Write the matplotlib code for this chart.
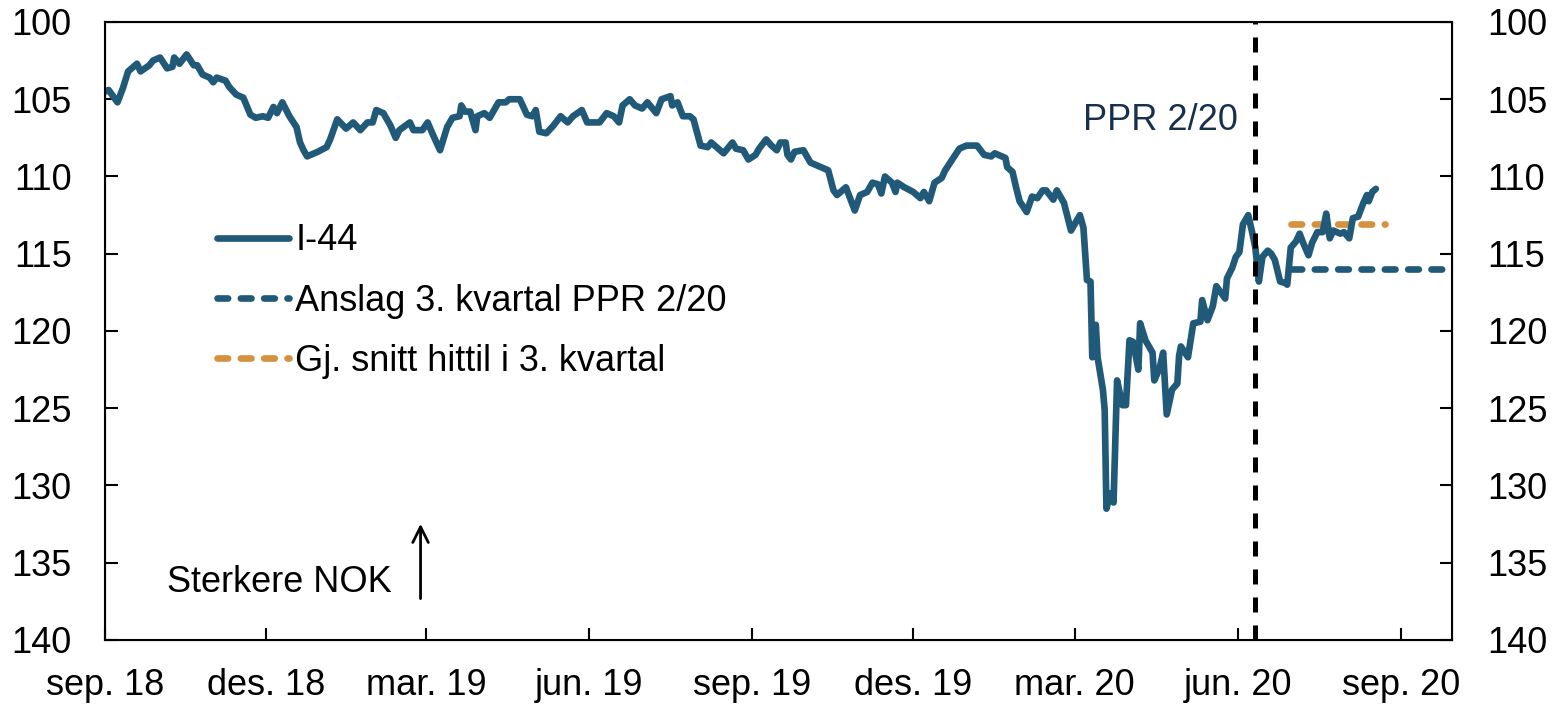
import numpy as np
import matplotlib
matplotlib.use('agg')
import matplotlib.pyplot as plt

# I-44 (days after 1 Sep 2018, index value)
day_offsets = [0, 2, 7, 10, 13, 18, 20, 25, 27, 31, 35, 38, 39, 42, 46, 50, 52, 55, 59, 61,
               63, 68, 70, 74, 78, 82, 85, 89, 92, 95, 97, 100, 104, 108, 110, 112, 114, 120, 125, 127,
               131, 136, 140, 144, 148, 151, 153, 157, 161, 164, 166, 172, 174, 179, 182, 185, 189, 193, 196, 200,
               201, 203, 206, 209, 210, 214, 217, 222, 226, 228, 234, 238, 241, 243, 245, 249, 253, 257, 261, 264,
               269, 272, 275, 279, 283, 287, 290, 292, 296, 299, 303, 306, 311, 314, 319, 320, 323, 326, 330, 332,
               336, 340, 342, 345, 349, 354, 356, 360, 363, 367, 369, 373, 376, 379, 381, 384, 385, 387, 389, 394,
               398, 402, 404, 408, 411, 413, 416, 418, 420, 423, 426, 430, 433, 436, 438, 440, 444, 446, 447, 451,
               456, 460, 462, 465, 468, 472, 474, 478, 482, 486, 490, 492, 496, 500, 502, 508, 509, 512, 514, 516,
               520, 523, 526, 529, 531, 535, 537, 541, 545, 550, 552, 554, 556, 557, 559, 560, 563, 564, 565, 567,
               569, 571, 574, 576, 578, 580, 583, 584, 587, 591, 592, 595, 597, 599, 602, 605, 606, 607, 611, 614,
               618, 619, 622, 625, 627, 632, 633, 636, 638, 640, 642, 645, 647, 649, 651, 653, 656, 658, 660, 663,
               666, 667, 669, 672, 674, 676, 679, 681, 684, 687, 689, 691, 693, 697, 699, 702, 704, 707, 710, 712,
               713, 715, 717]
i44 = [104.5, 104.4, 105.2, 104.3, 103.2, 102.7, 103.2, 102.8, 102.5, 102.3, 103.0, 102.9, 102.3, 102.7, 102.1, 102.8, 102.8, 103.4, 103.6, 103.9,
       103.6, 103.8, 104.2, 104.7, 104.9, 106.0, 106.2, 106.1, 106.2, 105.5, 105.9, 105.2, 106.1, 106.8, 107.8, 108.3, 108.7, 108.4, 108.1, 107.6,
       106.3, 106.9, 106.5, 107.0, 106.5, 106.5, 105.7, 105.9, 106.7, 107.5, 107.0, 106.5, 107.0, 107.0, 106.5, 107.3, 108.3, 106.8, 106.2, 106.1,
       105.4, 105.8, 105.8, 107.0, 106.1, 105.9, 106.2, 105.2, 105.2, 105.0, 105.0, 106.0, 106.1, 105.7, 107.1, 107.2, 106.7, 106.1, 106.5, 106.1,
       105.7, 106.5, 106.5, 106.5, 105.9, 106.1, 106.5, 105.4, 105.0, 105.4, 105.6, 105.2, 105.9, 105.0, 104.8, 105.4, 105.2, 106.1, 106.1, 106.3,
       108.0, 108.1, 107.8, 108.1, 108.5, 107.8, 108.2, 108.3, 108.9, 108.6, 108.2, 107.6, 108.0, 108.3, 107.8, 107.8, 108.6, 108.9, 108.4, 108.3,
       109.1, 109.3, 109.4, 109.6, 110.9, 111.2, 110.9, 110.7, 111.3, 112.2, 111.2, 111.0, 110.4, 110.5, 111.1, 110.0, 110.4, 111.0, 110.4, 110.7,
       111.0, 111.4, 111.0, 111.6, 110.4, 110.1, 109.6, 108.9, 108.2, 108.0, 108.0, 108.0, 108.6, 108.7, 108.5, 108.8, 109.4, 109.7, 110.7, 111.6,
       112.3, 111.3, 111.4, 110.9, 110.9, 111.5, 110.9, 111.7, 113.5, 112.5, 113.3, 116.7, 116.8, 121.7, 119.6, 121.7, 123.8, 125.1, 131.5, 130.5,
       131.1, 123.2, 124.8, 124.8, 120.6, 120.7, 122.5, 119.5, 120.6, 121.4, 123.2, 122.4, 121.4, 125.4, 123.8, 123.4, 121.6, 121.0, 121.7, 119.5,
       119.4, 118.0, 119.3, 118.4, 117.1, 117.9, 116.6, 115.9, 115.2, 114.9, 113.1, 112.5, 113.5, 114.6, 116.8, 115.2, 114.8, 115.0, 115.4, 116.8,
       116.9, 117.0, 114.6, 114.2, 113.7, 114.3, 115.1, 114.3, 113.6, 113.6, 112.4, 114.0, 113.5, 113.7, 113.6, 114.0, 112.7, 112.6, 111.7, 111.2,
       111.6, 111.0, 110.8]

start_date = np.datetime64('2018-09-01')
x_end = np.datetime64('2020-09-30')
ppr_date = np.datetime64('2020-06-11')

# forecast Q3 in PPR 2/20 and average so far in Q3
forecast_start = np.datetime64('2020-07-01')
forecast_value = 116.0
avg_start = np.datetime64('2020-07-01')
avg_end = np.datetime64('2020-08-23')
avg_value = 113.1

tick_dates = ['2018-09-01', '2018-12-01', '2019-03-01', '2019-06-01', '2019-09-01',
              '2019-12-01', '2020-03-01', '2020-06-01', '2020-09-01']
tick_labels = ['sep. 18', 'des. 18', 'mar. 19', 'jun. 19', 'sep. 19',
               'des. 19', 'mar. 20', 'jun. 20', 'sep. 20']

blue = '#215a79'
orange = '#d4913e'
fs = 26

plt.rcParams['font.family'] = ['Liberation Sans', 'DejaVu Sans']
plt.rcParams['font.size'] = fs

fig = plt.figure(figsize=(15.59, 7.05), dpi=100)
ax = fig.add_axes([0.0674, 0.0922, 0.864, 0.8766])

dates = start_date + np.array(day_offsets).astype('timedelta64[D]')
dash = (0, (1.6, 1.9))
ax.plot(dates, i44, color=blue, lw=4.8, solid_joinstyle='round', solid_capstyle='round',
        label='I-44', zorder=3)
ax.plot([forecast_start, x_end], [forecast_value, forecast_value], color=blue, lw=4.8,
        ls=dash, dash_capstyle='round', label='Anslag 3. kvartal PPR 2/20')
ax.plot([avg_start, avg_end], [avg_value, avg_value], color=orange, lw=4.8,
        ls=dash, dash_capstyle='round', label='Gj. snitt hittil i 3. kvartal', zorder=2)
ax.axvline(ppr_date, color='black', lw=3.6, ls=(0, (3, 2.6)), zorder=4)

ax.set_xlim(start_date, x_end)
ax.set_ylim(140, 100)
ax.set_yticks(range(100, 141, 5))
ax.set_xticks([np.datetime64(d) for d in tick_dates])
ax.set_xticklabels(tick_labels)
ax.tick_params(direction='in', length=9, width=1.5)
ax.tick_params(axis='x', pad=20)
ax.tick_params(axis='y', pad=24)
for s in ax.spines.values():
    s.set_linewidth(1.5)

ax2 = ax.twinx()
ax2.set_ylim(140, 100)
ax2.set_yticks(range(100, 141, 5))
ax2.tick_params(direction='in', length=9, width=1.5, pad=25)

ax.text(ppr_date - np.timedelta64(10, 'D'), 106.4, 'PPR 2/20', ha='right', va='center',
        color='#17304e', fontsize=fs)
ax.text(np.datetime64('2018-10-06'), 136.3, 'Sterkere NOK', ha='left', va='center', fontsize=fs)
ax.annotate('', xy=(np.datetime64('2019-02-26'), 132.3), xytext=(np.datetime64('2019-02-26'), 137.5),
            arrowprops=dict(arrowstyle='->', color='black', lw=2, mutation_scale=28))

ax.legend(loc='upper left', bbox_to_anchor=(0.083, 0.674), frameon=False, borderpad=0,
          borderaxespad=0, handlelength=2.0, handletextpad=0.17, labelspacing=0.7, fontsize=fs)

fig.savefig('out.png', dpi=100)
